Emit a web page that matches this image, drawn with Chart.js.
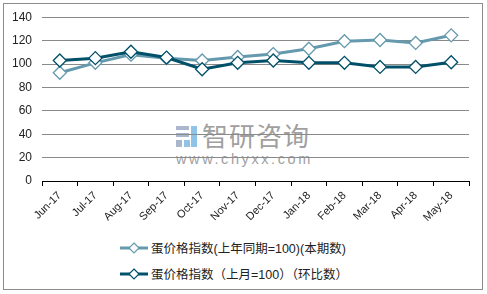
<!DOCTYPE html>
<html>
<head>
<meta charset="utf-8">
<script src="https://cdn.jsdelivr.net/npm/chart.js@4"></script>
<style>
	body { margin: 0; background: #fff; }
	#frame { position: relative; width: 487px; height: 294px; }
	#border { position: absolute; left: 3px; top: 3px; width: 478px; height: 285px; border: 1px solid #8c8c8c; }
	#chart-box { position: absolute; left: 0; top: 0; width: 487px; height: 232px; }
	.legend { position: absolute; left: 120px; font: 12.5px "Liberation Sans", "Noto Sans CJK SC", sans-serif; color: #222; display: flex; align-items: center; }
	.legend svg { margin-right: 3px; }
	#wm { position: absolute; left: 176px; top: 124px; color: #a0a0a0; font-family: "Noto Sans CJK SC", sans-serif; }
	#wm .cn { position: absolute; left: 26px; top: -8px; font-size: 26px; letter-spacing: 1px; white-space: nowrap; }
	#wm .url { position: absolute; left: 0; top: 27px; font: 14.5px "Liberation Sans", sans-serif; letter-spacing: 2.6px; white-space: nowrap; }
	#wm .logo { position: absolute; left: 0; top: 2px; width: 22px; height: 21px; }
</style>
</head>
<body>
<div id="frame">
	<div id="border"></div>
	<div id="wm">
		<svg class="logo" viewBox="0 0 22 21">
			<rect x="0" y="0" width="13" height="4" fill="#aab6cc"/>
			<rect x="0" y="7" width="13" height="4" fill="#aab6cc"/>
			<rect x="0" y="14" width="6" height="7" fill="#aab6cc"/>
			<rect x="15" y="0" width="6" height="21" fill="#8fc3e8"/>
			<rect x="8" y="14" width="6" height="7" fill="#8fc3e8"/>
		</svg>
		<span class="cn">智研咨询</span>
		<span class="url">www.chyxx.com</span>
	</div>
	<div id="chart-box"><canvas id="egg-chart"></canvas></div>
	<div class="legend" style="top:238px">
		<svg width="28" height="14"><line x1="0" y1="7" x2="28" y2="7" stroke="#6499ae" stroke-width="3"/><path d="M14 2 L19 7 L14 12 L9 7 Z" fill="#fff" stroke="#6499ae" stroke-width="1.2"/></svg>
		<span>蛋价格指数(上年同期=100)(本期数)</span>
	</div>
	<div class="legend" style="top:264px">
		<svg width="28" height="14"><line x1="0" y1="7" x2="28" y2="7" stroke="#00506a" stroke-width="3"/><path d="M14 2 L19 7 L14 12 L9 7 Z" fill="#fff" stroke="#00506a" stroke-width="1.2"/></svg>
		<span>蛋价格指数（上月=100）（环比数）</span>
	</div>
</div>

<script>
	var months = ['Jun-17', 'Jul-17', 'Aug-17', 'Sep-17', 'Oct-17', 'Nov-17', 'Dec-17', 'Jan-18', 'Feb-18', 'Mar-18', 'Apr-18', 'May-18'];
	var yearOnYear = [92.5, 101, 108, 105, 103, 106, 108.5, 113, 119.5, 120.5, 118, 124.5];
	var monthOnMonth = [103, 105, 110.5, 105.5, 95.5, 101, 103, 101, 101, 97.5, 97.5, 101.5];
	var yTicks = [0, 20, 40, 60, 80, 100, 120, 140];

	var lightBlue = '#6499ae';
	var darkBlue = '#00506a';

	function series(label, data, color, order) {
		return {
			label: label,
			data: data,
			borderColor: color,
			borderWidth: 3,
			pointStyle: 'rectRot',
			pointRadius: 6.5,
			pointBackgroundColor: '#fff',
			pointBorderColor: color,
			pointBorderWidth: 1.3,
			tension: 0,
			order: order
		};
	}

	new Chart(document.getElementById('egg-chart'), {
		type: 'line',
		data: {
			labels: months,
			datasets: [
				series('蛋价格指数(上年同期=100)(本期数)', yearOnYear, lightBlue, 1),
				series('蛋价格指数（上月=100）（环比数）', monthOnMonth, darkBlue, 0)
			]
		},
		options: {
			responsive: true,
			maintainAspectRatio: false,
			animation: false,
			layout: { padding: { top: 16, right: 18, left: 0, bottom: 0 } },
			plugins: { legend: { display: false }, tooltip: { enabled: false } },
			scales: {
				x: {
					offset: true,
					grid: { offset: true, drawOnChartArea: false, drawTicks: true, tickLength: 5, color: '#000' },
					border: { color: '#000', width: 1 },
					ticks: {
						color: '#222',
						font: { family: 'Liberation Sans', size: 11 },
						minRotation: 45,
						maxRotation: 45,
						padding: 3
					},
					afterFit: function (s) { s.height = 51; }
				},
				y: {
					min: 0,
					max: 140,
					afterBuildTicks: function (s) { s.ticks = yTicks.map(function (v) { return { value: v }; }); },
					grid: { color: '#8a8a8a', drawTicks: false, lineWidth: 1 },
					border: { display: false },
					ticks: {
						color: '#222',
						font: { family: 'Liberation Sans', size: 12 },
						padding: 10
					},
					afterFit: function (s) { s.width = 42; }
				}
			}
		}
	});
</script>
</body>
</html>
